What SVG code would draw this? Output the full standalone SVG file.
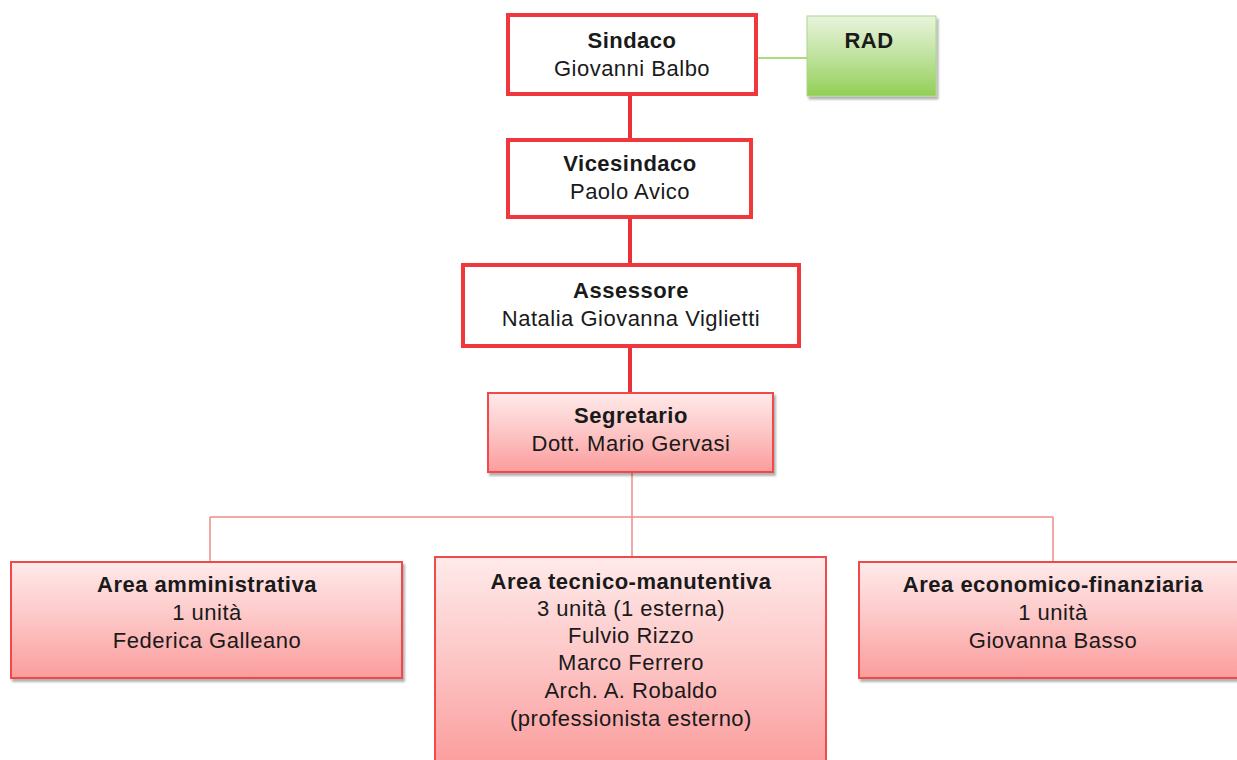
<svg xmlns="http://www.w3.org/2000/svg" width="1237" height="760" viewBox="0 0 1237 760">
<style>
text{font-family:"Liberation Sans",Arial,sans-serif;font-size:22px;letter-spacing:0.5px;fill:#1a1a1a;text-anchor:middle}
.b{font-weight:bold}
.top{fill:#fff;stroke:#f0383c;stroke-width:4}
.pink{fill:url(#gp);stroke:#f04a4a;stroke-width:2}
.thick{stroke:#e8323a;stroke-width:4;fill:none}
.thin{stroke:#f08a8a;stroke-width:1.5;fill:none}
</style>
<defs>
<linearGradient id="gp" x1="0" y1="0" x2="0" y2="1"><stop offset="0" stop-color="#ffeaea"/><stop offset="0.45" stop-color="#fdc9c9"/><stop offset="1" stop-color="#fb9c9c"/></linearGradient>
<linearGradient id="gg" x1="0" y1="0" x2="0" y2="1"><stop offset="0" stop-color="#e8f4dc"/><stop offset="0.5" stop-color="#c0e29f"/><stop offset="1" stop-color="#92cf55"/></linearGradient>
<filter id="sh" x="-5%" y="-5%" width="112%" height="115%"><feDropShadow dx="2" dy="3" stdDeviation="1" flood-color="#000" flood-opacity="0.3"/></filter>
</defs>
<g id="connectors">
<line class="thick" x1="630" y1="94" x2="630" y2="140"/>
<line class="thick" x1="630" y1="217" x2="630" y2="265"/>
<line class="thick" x1="630" y1="346" x2="630" y2="393"/>
<line x1="756" y1="58" x2="807" y2="58" stroke="#92cf55" stroke-width="1.5"/>
<path class="thin" d="M632 472 V517 M210 517 H1053 M210 517 V562 M632 517 V557 M1053 517 V562"/>
</g>
<g id="sindaco"><rect class="top" x="508" y="15" width="248" height="79"/><text class="b" x="632" y="48">Sindaco</text><text x="632" y="76">Giovanni Balbo</text></g>
<g id="rad"><rect x="807" y="16" width="129" height="80" fill="url(#gg)" stroke="#a8d88a" stroke-width="1" filter="url(#sh)"/><text class="b" x="869" y="48">RAD</text></g>
<g id="vicesindaco"><rect class="top" x="508" y="140" width="243" height="77"/><text class="b" x="630" y="171">Vicesindaco</text><text x="630" y="199">Paolo Avico</text></g>
<g id="assessore"><rect class="top" x="463" y="265" width="336" height="81"/><text class="b" x="631" y="298">Assessore</text><text x="631" y="326">Natalia Giovanna Viglietti</text></g>
<g id="segretario"><rect class="pink" x="488" y="393" width="285" height="79" filter="url(#sh)"/><text class="b" x="631" y="423">Segretario</text><text x="631" y="451">Dott. Mario Gervasi</text></g>
<g id="area-amministrativa"><rect class="pink" x="11" y="562" width="391" height="116" filter="url(#sh)"/><text class="b" x="207" y="592">Area amministrativa</text><text x="207" y="620">1 unità</text><text x="207" y="648">Federica Galleano</text></g>
<g id="area-tecnico"><rect class="pink" x="435" y="557" width="391" height="210"/><text class="b" x="631" y="589">Area tecnico-manutentiva</text><text x="631" y="616">3 unità (1 esterna)</text><text x="631" y="643">Fulvio Rizzo</text><text x="631" y="670">Marco Ferrero</text><text x="631" y="698">Arch. A. Robaldo</text><text x="631" y="726">(professionista esterno)</text></g>
<g id="area-economico"><rect class="pink" x="859" y="562" width="380" height="116" filter="url(#sh)"/><text class="b" x="1053" y="592">Area economico-finanziaria</text><text x="1053" y="620">1 unità</text><text x="1053" y="648">Giovanna Basso</text></g>
</svg>
